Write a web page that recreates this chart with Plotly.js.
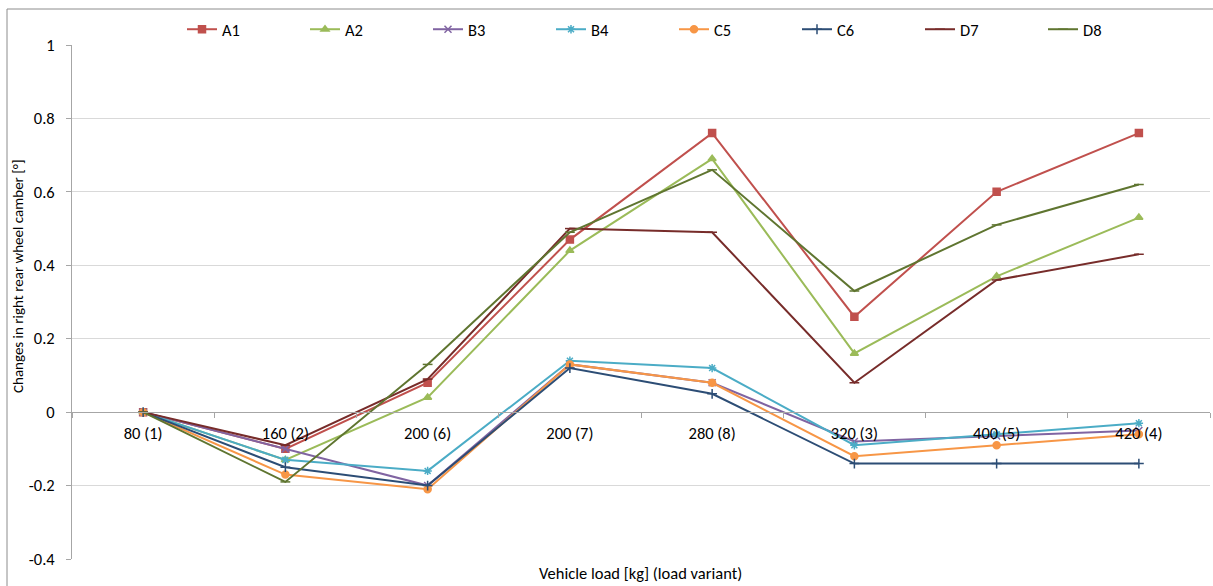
<!DOCTYPE html>
<html>
<head>
<meta charset="utf-8">
<script src="https://cdn.plot.ly/plotly-3.0.1.min.js"></script>
<style>html,body{margin:0;padding:0;background:#fff;}#chart{width:1213px;height:586px;}</style>
</head>
<body>
<div id="chart"></div>
<script>
const categories = ["80 (1)", "160 (2)", "200 (6)", "200 (7)", "280 (8)", "320 (3)", "400 (5)", "420 (4)"];
const A1 = [0, -0.10, 0.08, 0.47, 0.76, 0.26, 0.60, 0.76];
const A2 = [0, -0.13, 0.04, 0.44, 0.69, 0.16, 0.37, 0.53];
const B3 = [0, -0.10, -0.20, 0.13, 0.08, -0.08, -0.065, -0.05];
const B4 = [0, -0.13, -0.16, 0.14, 0.12, -0.09, -0.06, -0.03];
const C5 = [0, -0.17, -0.21, 0.13, 0.08, -0.12, -0.09, -0.06];
const C6 = [0, -0.15, -0.20, 0.12, 0.05, -0.14, -0.14, -0.14];
const D7 = [0, -0.09, 0.09, 0.50, 0.49, 0.08, 0.36, 0.43];
const D8 = [0, -0.19, 0.13, 0.49, 0.66, 0.33, 0.51, 0.62];
const yTickVals = [-0.4, -0.2, 0, 0.2, 0.4, 0.6, 0.8, 1];
const yTickText = ["-0.4", "-0.2", "0", "0.2", "0.4", "0.6", "0.8", "1"];
const xTitle = "Vehicle load [kg] (load variant)";
const yTitle = "Changes in right rear wheel camber [°]";

const FONT = "Carlito, Lato, 'Open Sans', sans-serif";
const FS = 16.5;
const series = [
  {name: "A1", y: A1, color: "#C0504D", symbol: "square", size: 7},
  {name: "A2", y: A2, color: "#9BBB59", symbol: "triangle-up", size: 7},
  {name: "B3", y: B3, color: "#8064A2", symbol: "x-thin-open", size: 7},
  {name: "B4", y: B4, color: "#4BACC6", symbol: "asterisk-open", size: 7},
  {name: "C5", y: C5, color: "#F79646", symbol: "circle", size: 7},
  {name: "C6", y: C6, color: "#2C4D75", symbol: "cross-thin-open", size: 7},
  {name: "D7", y: D7, color: "#772C2A", symbol: "line-ew-open", size: 7},
  {name: "D8", y: D8, color: "#5F7530", symbol: "line-ew-open", size: 7}
];

const L = 72, R = 3, T = 45, B = 27, W = 1213, H = 586;
const pw = W - L - R, ph = H - T - B;
const px = v => (v - L) / pw;
const py = v => 1 - (v - T) / ph;

const legendStart = 182, legendStep = 123;

const traces = series.map((s, i) => ({
  type: "scatter", mode: "lines+markers", name: s.name,
  x: categories, y: s.y,
  legend: i === 0 ? "legend" : "legend" + (i + 1),
  line: {color: s.color, width: 2},
  marker: {color: s.color, symbol: s.symbol, size: s.size, line: {color: s.color, width: 1.5}}
}));

const layout = {
  width: W, height: H,
  margin: {l: L, r: R, t: T, b: B},
  paper_bgcolor: "#fff", plot_bgcolor: "#fff",
  font: {family: FONT, size: FS, color: "#000"},
  showlegend: true,
  xaxis: {type: "category", range: [-0.5, 7.5], anchor: "free", position: 0.4 / 1.4,
          showline: true, linecolor: "#a6a6a6", linewidth: 1,
          ticks: "outside", tickson: "boundaries", ticklen: 5, tickcolor: "#a6a6a6",
          ticklabelstandoff: 6,
          showgrid: false, zeroline: false, fixedrange: true,
          tickfont: {family: FONT, size: FS, color: "#000"}},
  yaxis: {range: [-0.4, 1], tickvals: yTickVals, ticktext: yTickText,
          showline: true, linecolor: "#a6a6a6", linewidth: 1,
          ticks: "outside", ticklen: 5, tickcolor: "#a6a6a6",
          ticklabelstandoff: 8,
          gridcolor: "#d9d9d9", gridwidth: 1, zeroline: false,
          tickfont: {family: FONT, size: FS, color: "#000"}},
  annotations: [
    {text: xTitle, xref: "paper", yref: "paper", x: px(640), y: py(573),
     xanchor: "center", yanchor: "middle", showarrow: false,
     font: {family: FONT, size: 16.5, color: "#000"}},
    {text: yTitle, xref: "paper", yref: "paper", x: px(18), y: py(276), textangle: -90,
     xanchor: "center", yanchor: "middle", showarrow: false,
     font: {family: FONT, size: 15, color: "#000"}}
  ],
  shapes: [
    {type: "line", xref: "paper", yref: "paper", x0: px(7), x1: px(1213), y0: py(9), y1: py(9),
     line: {color: "#8c8c8c", width: 1}},
    {type: "line", xref: "paper", yref: "paper", x0: px(7), x1: px(7), y0: py(9), y1: py(586),
     line: {color: "#8c8c8c", width: 1}}
  ]
};

series.forEach((s, i) => {
  const key = i === 0 ? "legend" : "legend" + (i + 1);
  layout[key] = {orientation: "h", x: px(legendStart + i * legendStep), xanchor: "left",
                 y: py(12), yanchor: "top", itemwidth: 30,
                 font: {family: FONT, size: FS, color: "#000"}, bgcolor: "rgba(0,0,0,0)"};
});

Plotly.newPlot("chart", traces, layout, {displayModeBar: false, staticPlot: true});
</script>
</body>
</html>
